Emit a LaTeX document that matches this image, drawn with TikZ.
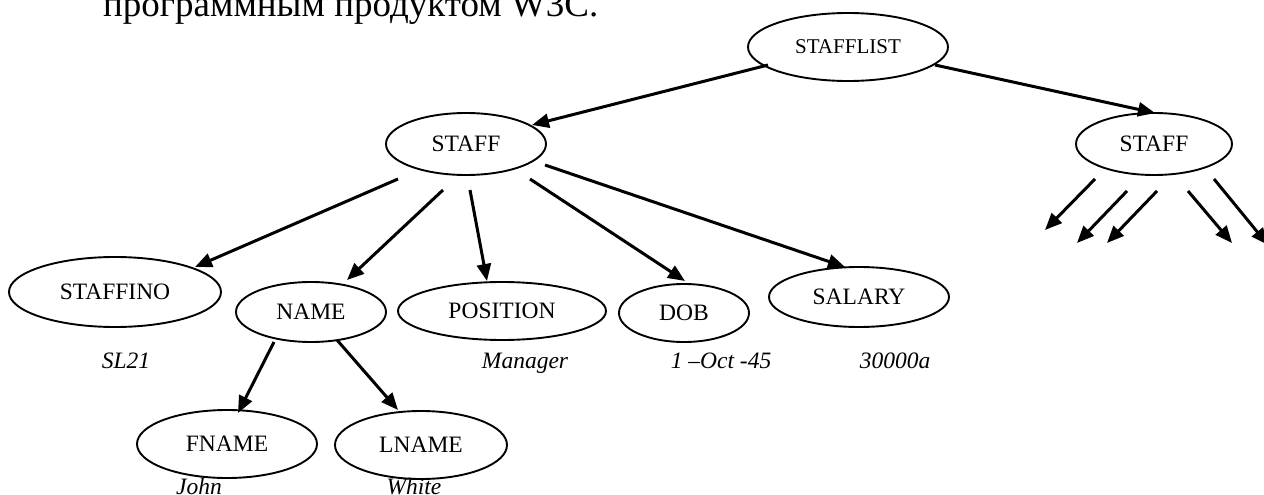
\documentclass[tikz,border=0pt]{standalone}
\usepackage{fontspec}
\setmainfont{Liberation Serif}
\usetikzlibrary{shapes.geometric,arrows.meta}
\begin{document}
\begin{tikzpicture}[x=1pt,y=-1pt,
  elem/.style args={#1/#2}{ellipse, draw, line width=1.9pt, inner sep=0pt,
    minimum width=#1pt, minimum height=#2pt,
    font=\fontsize{23.5}{28}\selectfont},
  rootfont/.style={font=\fontsize{21}{25}\selectfont},
  val/.style={anchor=base, inner sep=0pt, font=\itshape\fontsize{23.5}{28}\selectfont},
  conn/.style={line width=3pt, -{Triangle[length=17pt,width=14pt]}}
]
% page
\path[use as bounding box, fill=white] (0,0) rectangle (1264,495);

% running text above the tree
\node[anchor=base west, inner sep=0pt, font=\fontsize{37}{40}\selectfont] (caption)
  at (103,17) {программным продуктом W3C.};

% element nodes
\node[elem=200/68, rootfont] (list)     at (848,47)  {STAFFLIST};
\node[elem=160/62]           (staffA)   at (466,144) {STAFF};
\node[elem=156/62]           (staffB)   at (1154,144) {STAFF};
\node[elem=212/70]           (staffino) at (115,292) {STAFFINO};
\node[elem=150/60]           (name)     at (311,312) {NAME};
\node[elem=208/58]           (position) at (502,311) {POSITION};
\node[elem=130/58]           (dob)      at (684,313) {DOB};
\node[elem=180/60]           (salary)   at (859,297) {SALARY};
\node[elem=180/68]           (fname)    at (227,444) {FNAME};
\node[elem=172/68]           (lname)    at (421,445) {LNAME};

% element values
\node[val] (v1) at (126,368) {SL21};
\node[val] (v2) at (525,368) {Manager};
\node[val] (v3) at (721,368) {1 –Oct -45};
\node[val] (v4) at (895,368) {30000a};
\node[val] (v5) at (199,494) {John};
\node[val] (v6) at (414,494) {White};

% tree edges
\draw[conn] ([shift={(-80,18)}]list.center)   -- ([shift={(66,-19)}]staffA.center);
\draw[conn] ([shift={(87,18)}]list.center)    -- ([shift={(1,-31)}]staffB.center);
\draw[conn] ([shift={(-68,35)}]staffA.center) -- ([shift={(80,-25)}]staffino.center);
\draw[conn] ([shift={(-23,46)}]staffA.center) -- ([shift={(36,-32)}]name.center);
\draw[conn] ([shift={(4,46)}]staffA.center)   -- ([shift={(-15,-30)}]position.center);
\draw[conn] ([shift={(64,35)}]staffA.center)  -- ([shift={(1,-32)}]dob.center);
\draw[conn] ([shift={(79,21)}]staffA.center)  -- ([shift={(-14,-30)}]salary.center);
\draw[conn] ([shift={(-37,30)}]name.center)   -- ([shift={(11,-31)}]fname.center);
\draw[conn] ([shift={(26,28)}]name.center)    -- ([shift={(-23,-35)}]lname.center);

% children of the second STAFF, left open
\coordinate (b1) at (1045,230);
\coordinate (b2) at (1077,243);
\coordinate (b3) at (1107,243);
\coordinate (b4) at (1232,243);
\coordinate (b5) at (1268,245);
\draw[conn] ([shift={(-59,35)}]staffB.center) -- (b1);
\draw[conn] ([shift={(-27,47)}]staffB.center) -- (b2);
\draw[conn] ([shift={(3,47)}]staffB.center)   -- (b3);
\draw[conn] ([shift={(34,47)}]staffB.center)  -- (b4);
\draw[conn] ([shift={(60,35)}]staffB.center)  -- (b5);
\end{tikzpicture}
\end{document}
